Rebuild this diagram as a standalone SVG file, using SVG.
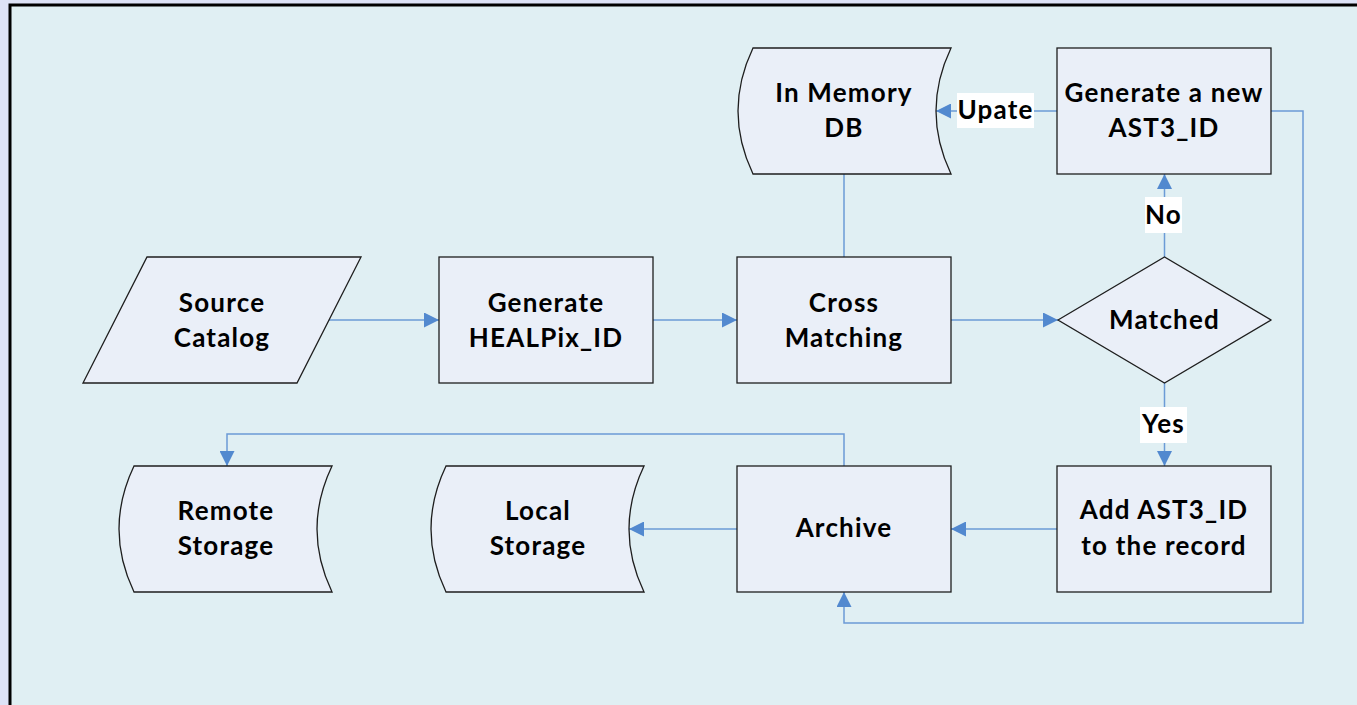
<svg xmlns="http://www.w3.org/2000/svg" width="1357" height="705" viewBox="0 0 1357 705">
<defs>
<style>
.node{fill:#eaeff8;stroke:#1e1e1e;stroke-width:1.3}
.t{font-family:Lato,"Open Sans","Liberation Sans",sans-serif;font-weight:bold;font-size:26px;fill:#000;text-anchor:middle;letter-spacing:1.2px}
.c{fill:none;stroke:#6b9bd6;stroke-width:1.5}
.lbl{fill:#ffffff}
</style>
<marker id="ah" markerUnits="userSpaceOnUse" markerWidth="16" markerHeight="15" refX="15" refY="7.5" orient="auto">
<path d="M0,0 L15,7.5 L0,15 Z" fill="#5289cf"/>
</marker>
</defs>
<rect x="0" y="0" width="1357" height="705" fill="#dde2f6"/>
<rect x="10" y="5" width="1360" height="720" fill="#e0eff3" stroke="#000" stroke-width="3"/>

<g id="connectors">
<path class="c" d="M329,320 H439" marker-end="url(#ah)"/>
<path class="c" d="M653,320 H737" marker-end="url(#ah)"/>
<path class="c" d="M951,320 H1058" marker-end="url(#ah)"/>
<path class="c" d="M844,257 V173"/>
<path class="c" d="M1057,111 H936" marker-end="url(#ah)"/>
<path class="c" d="M1164.5,257 V174" marker-end="url(#ah)"/>
<path class="c" d="M1164.5,383 V466" marker-end="url(#ah)"/>
<path class="c" d="M1271,111 H1303 V623 H844 V592" marker-end="url(#ah)"/>
<path class="c" d="M1057,529 H951" marker-end="url(#ah)"/>
<path class="c" d="M737,529 H629" marker-end="url(#ah)"/>
<path class="c" d="M844,466 V434 H227 V466" marker-end="url(#ah)"/>
<rect class="lbl" x="957" y="93" width="77" height="35"/>
<text class="t" x="995.5" y="119">Upate</text>
<rect class="lbl" x="1145" y="197" width="37" height="36"/>
<text class="t" x="1163.5" y="224">No</text>
<rect class="lbl" x="1140" y="407" width="47" height="36"/>
<text class="t" x="1163.5" y="433">Yes</text>
</g>

<g id="source-catalog">
<path class="node" d="M147,257 L361,257 L297,383 L83,383 Z"/>
<text class="t" x="222" y="312">Source</text>
<text class="t" x="222" y="347">Catalog</text>
</g>

<g id="generate-healpix">
<rect class="node" x="439" y="257" width="214" height="126"/>
<text class="t" x="546" y="312">Generate</text>
<text class="t" x="546" y="347">HEALPix_ID</text>
</g>

<g id="cross-matching">
<rect class="node" x="737" y="257" width="214" height="126"/>
<text class="t" x="844" y="312">Cross</text>
<text class="t" x="844" y="347">Matching</text>
</g>

<g id="in-memory-db">
<path class="node" d="M753,48 L951,48 Q921,111 951,174 L753,174 Q723,111 753,48 Z"/>
<text class="t" x="844" y="102">In Memory</text>
<text class="t" x="844" y="137">DB</text>
</g>

<g id="generate-new-id">
<rect class="node" x="1057" y="48" width="214" height="126"/>
<text class="t" x="1164" y="102">Generate a new</text>
<text class="t" x="1164" y="137">AST3_ID</text>
</g>

<g id="matched">
<path class="node" d="M1058,320 L1164.5,257 L1271,320 L1164.5,383 Z"/>
<text class="t" x="1164.5" y="329">Matched</text>
</g>

<g id="add-id">
<rect class="node" x="1057" y="466" width="214" height="126"/>
<text class="t" x="1164" y="519">Add AST3_ID</text>
<text class="t" x="1164" y="555">to the record</text>
</g>

<g id="archive">
<rect class="node" x="737" y="466" width="214" height="126"/>
<text class="t" x="844" y="537">Archive</text>
</g>

<g id="local-storage">
<path class="node" d="M446,466 L644,466 Q614,529 644,592 L446,592 Q416,529 446,466 Z"/>
<text class="t" x="538" y="520">Local</text>
<text class="t" x="538" y="555">Storage</text>
</g>

<g id="remote-storage">
<path class="node" d="M134,466 L332,466 Q302,529 332,592 L134,592 Q104,529 134,466 Z"/>
<text class="t" x="226" y="520">Remote</text>
<text class="t" x="226" y="555">Storage</text>
</g>
</svg>
